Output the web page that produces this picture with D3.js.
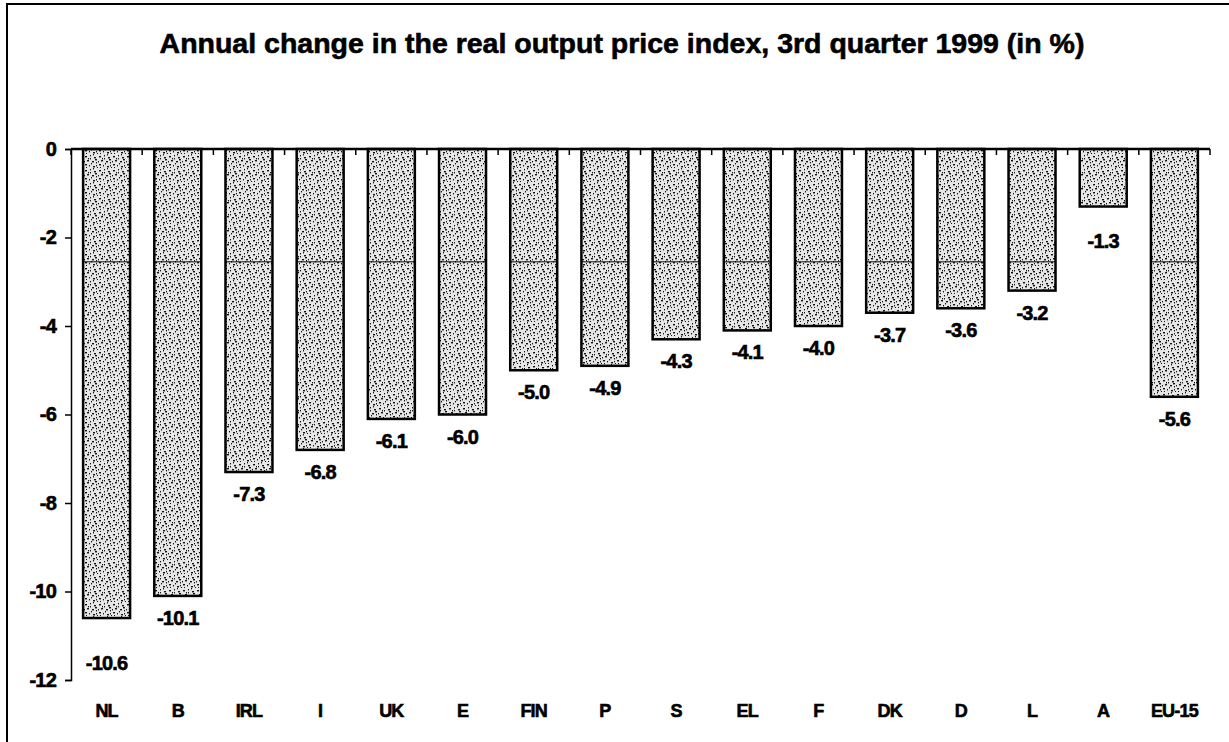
<!DOCTYPE html>
<html><head><meta charset="utf-8">
<script src="https://cdn.jsdelivr.net/npm/d3@7"></script>
<style>
html,body{margin:0;padding:0;background:#fff;}
svg{display:block;font-family:"Liberation Sans",Arial,sans-serif;}
.heavy{stroke:#000;stroke-width:0.6px;paint-order:stroke;}
</style></head>
<body>
<svg id="chart" width="1229" height="742"></svg>
<script>
const categories = ["NL","B","IRL","I","UK","E","FIN","P","S","EL","F","DK","D","L","A","EU-15"];
const values = [-10.6,-10.1,-7.3,-6.8,-6.1,-6.0,-5.0,-4.9,-4.3,-4.1,-4.0,-3.7,-3.6,-3.2,-1.3,-5.6];
const valueLabels = ["-10.6","-10.1","-7.3","-6.8","-6.1","-6.0","-5.0","-4.9","-4.3","-4.1","-4.0","-3.7","-3.6","-3.2","-1.3","-5.6"];
const yTicks = [0,-2,-4,-6,-8,-10,-12];
const title = "Annual change in the real output price index, 3rd quarter 1999 (in %)";

const svg = d3.select("#chart");
const x = d3.scaleBand().domain(categories).range([71,1210]).paddingInner(0.34).paddingOuter(0.17);
const xb = d3.scaleLinear().domain([0,categories.length]).range([71,1210]);
const y = d3.scaleLinear().domain([-12,0]).range([680,149]);

// frame
svg.append("rect").attr("x",7).attr("y",4).attr("width",1240).attr("height",760)
  .attr("fill","none").attr("stroke","#000").attr("stroke-width",2);

// stipple pattern (deterministic)
const defs = svg.append("defs");
const pat = defs.append("pattern").attr("id","stip").attr("patternUnits","userSpaceOnUse")
  .attr("width",14).attr("height",14);
pat.append("rect").attr("width",14).attr("height",14).attr("fill","#e6e6e6");
const dots = [[1,2,2],[6,1,1],[10,3,2],[3,6,2],[8,7,2],[12,8,1],[1,10,2],[5,11,1],[9,12,2],[13,13,1],[4,4,1],[11,5,2],[7,9,1],[2,13,1],[6,4,1],[12,11,1],[0,7,1],[9,0,1]];
dots.forEach(d=>pat.append("rect").attr("x",d[0]).attr("y",d[1]).attr("width",d[2]).attr("height",1.4).attr("fill","#111"));

svg.append("text").attr("class","heavy").attr("x",622).attr("y",53).attr("text-anchor","middle")
  .attr("font-size",28.5).attr("font-weight","bold").text(title);

// bars
const bars = svg.append("g");
categories.forEach((c,i)=>{
  const v = values[i];
  bars.append("rect").attr("x",x(c)).attr("y",y(0)).attr("width",x.bandwidth())
    .attr("height",y(v)-y(0)).attr("fill","url(#stip)").attr("stroke","#000").attr("stroke-width",2.5);
  if (v < -2.6) {
    bars.append("line").attr("x1",x(c)).attr("x2",x(c)+x.bandwidth())
      .attr("y1",y(-2.55)).attr("y2",y(-2.55)).attr("stroke","#000").attr("stroke-width",1);
  }
  const extra = c==="NL" ? 23 : (c==="A" ? 12 : 0);
  svg.append("text").attr("class","heavy").attr("x",x(c)+x.bandwidth()/2).attr("y",y(v)+29+extra)
    .attr("text-anchor","middle").attr("font-size",20).attr("font-weight","bold")
    .attr("letter-spacing","-0.8").text(valueLabels[i]);
});

// x axis line at 0 with ticks at band boundaries
svg.append("line").attr("x1",71).attr("x2",1210).attr("y1",y(0)).attr("y2",y(0))
  .attr("stroke","#000").attr("stroke-width",2.5);
d3.range(categories.length+1).forEach(k=>{
  svg.append("line").attr("x1",xb(k)).attr("x2",xb(k)).attr("y1",y(0)).attr("y2",y(0)+6)
    .attr("stroke","#000").attr("stroke-width",1.5);
});

// y axis
const yAxis = d3.axisLeft(y).tickValues(yTicks).tickSize(6).tickFormat(d3.format("d"));
const gy = svg.append("g").attr("transform","translate(71,0)").call(yAxis);
gy.select(".domain").attr("stroke-width",1.5);
gy.selectAll(".tick line").attr("stroke-width",1.5);
gy.selectAll(".tick text").attr("class","heavy").attr("font-size",20).attr("font-weight","bold")
  .attr("font-family","Liberation Sans, Arial, sans-serif").attr("fill","#000").attr("x",-15)
  .attr("letter-spacing","-0.8")
  .text(d=>d===0?"0":String(d).replace("−","-"));

// category labels
categories.forEach(c=>{
  svg.append("text").attr("class","heavy").attr("x",x(c)+x.bandwidth()/2).attr("y",717).attr("text-anchor","middle")
    .attr("font-size",18).attr("font-weight","bold").attr("letter-spacing","-0.8").text(c);
});
</script>
</body></html>
